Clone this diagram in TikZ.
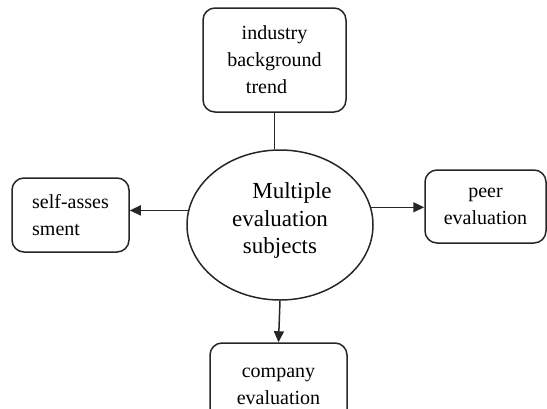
\documentclass[tikz,border=0pt]{standalone}
\usepackage{fontspec}
\setmainfont{Liberation Serif}
\usepackage{tikz}
\usetikzlibrary{positioning, arrows.meta, shapes.geometric}

\begin{document}
\begin{tikzpicture}[x=1pt, y=-1pt,
  box/.style={draw=black!85, line width=1.5pt, rounded corners=12pt, inner sep=0pt, align=center, font=\fontsize{20}{27}\selectfont},
  subj/.style={draw=black!85, line width=1.5pt, ellipse, inner sep=0pt, minimum width=186pt, minimum height=150pt, align=center, font=\fontsize{23}{27.5}\selectfont},
  link/.style={draw=black!85, line width=1.5pt},
  arr/.style={link, -{Triangle[length=11pt, width=10pt]}}]
\clip (0,0) rectangle (547,408);
\node[box, minimum width=143pt, minimum height=104pt] (trend) at (274.5,60) {industry\\background\\trend\hspace*{16pt}};
\node[subj] (subj) at (280,225) {\hspace*{24pt}Multiple\\evaluation\\subjects\\[-14pt]};
\node[box, minimum width=117pt, minimum height=74pt, align=left] (self) at (70.5,215) {self-asses\\sment};
\node[box, minimum width=121pt, minimum height=73pt] (peer) at (485.5,206.5) {peer\\evaluation};
\node[box, minimum width=137pt, minimum height=86pt] (comp) at (278.5,386) {company\\evaluation};
\draw[link] (trend.south) -- (trend.south |- subj.north);
\draw[arr] (subj.171.3) -- (subj.171.3 -| self.east);
\draw[arr] (subj.11.3) -- (subj.11.3 -| peer.west);
\draw[arr] (subj.south) -- (comp.north);
\end{tikzpicture}
\end{document}
